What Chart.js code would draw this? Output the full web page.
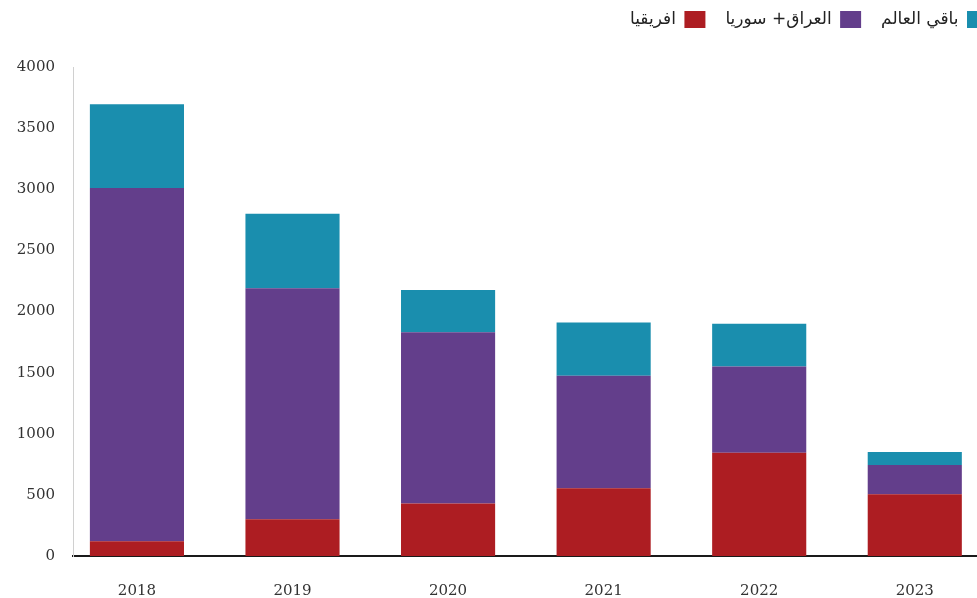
<!DOCTYPE html>
<html>
<head>
<meta charset="utf-8">
<script src="https://cdn.jsdelivr.net/npm/chart.js@4.4.1/dist/chart.umd.min.js"></script>
<style>
html,body{margin:0;padding:0;background:#fff;}
#wrap{width:977px;height:598px;position:relative;}
</style>
</head>
<body>
<div id="wrap"><canvas id="c" width="977" height="598"></canvas></div>
<script>
const categories = [2018, 2019, 2020, 2021, 2022, 2023];
const africa = [120, 300, 430, 555, 845, 505];
const iraqSyria = [2890, 1890, 1400, 920, 705, 240];
const restOfWorld = [685, 610, 345, 435, 350, 105];
const seriesNames = ['افريقيا', 'العراق+ سوريا', 'باقي العالم'];
const yTicks = [0, 500, 1000, 1500, 2000, 2500, 3000, 3500, 4000];

const toPts = arr => arr.map((v, i) => ({x: categories[i], y: v}));

const legendTweak = {
  id: 'legendTweak',
  beforeLayout(chart) {
    const lg = chart.legend;
    if (lg && !lg._tweaked) {
      const f = lg.fit.bind(lg);
      lg.fit = function () { f(); this.height = 67; };
      lg._tweaked = true;
    }
  },
  afterLayout(chart) {
    const lg = chart.legend;
    if (lg) {
      lg.left += 31; lg.right += 31;
      lg.top -= 9; lg.bottom -= 9;
    }
  }
};

new Chart(document.getElementById('c'), {
  type: 'bar',
  data: {
    datasets: [
      {label: seriesNames[0], data: toPts(africa), backgroundColor: '#AD1D22'},
      {label: seriesNames[1], data: toPts(iraqSyria), backgroundColor: '#633E8B'},
      {label: seriesNames[2], data: toPts(restOfWorld), backgroundColor: '#1A8EAE'}
    ]
  },
  plugins: [legendTweak],
  options: {
    responsive: false,
    animation: false,
    layout: {padding: {left: 0, right: 0, top: 0, bottom: 0}},
    datasets: {bar: {categoryPercentage: 1, barPercentage: 0.605}},
    plugins: {
      tooltip: {enabled: false},
      legend: {
        position: 'top',
        align: 'start',
        rtl: true,
        reverse: true,
        labels: {
          boxWidth: 21,
          boxHeight: 17,
          padding: 20,
          color: '#222',
          font: {family: 'DejaVu Sans', size: 17}
        }
      }
    },
    scales: {
      x: {
        type: 'linear',
        stacked: true,
        min: 2017.589,
        max: 2023.4,
        offset: false,
        afterBuildTicks: s => { s.ticks = categories.map(v => ({value: v})); },
        afterFit: s => { s.height = 42; },
        grid: {display: false},
        border: {display: true, color: '#1a1a1a', width: 2},
        ticks: {
          padding: 18,
          color: '#333',
          font: {family: 'DejaVu Serif', size: 15},
          callback: v => String(v)
        }
      },
      y: {
        stacked: true,
        min: 0,
        max: 4000,
        afterBuildTicks: s => { s.ticks = yTicks.map(v => ({value: v})); },
        afterFit: s => { s.width = 73; },
        grid: {display: false},
        border: {display: true, color: '#d0d0d0', width: 1},
        ticks: {
          padding: 10,
          color: '#333',
          font: {family: 'DejaVu Serif', size: 15},
          callback: v => String(v)
        }
      }
    }
  }
});
</script>
</body>
</html>
